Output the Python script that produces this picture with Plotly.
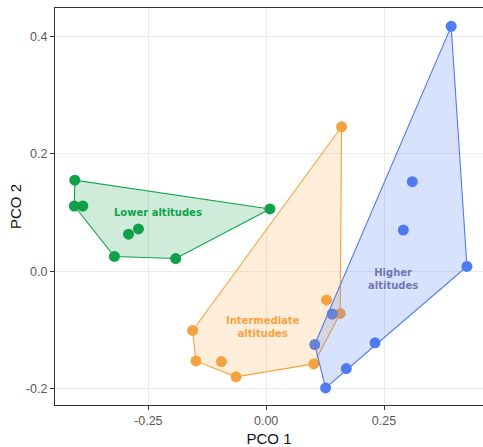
import plotly.graph_objects as go

# ---- data ----
low_x = [-0.406, -0.407, -0.389, -0.292, -0.271, -0.322, -0.192, 0.008]
low_y = [0.155, 0.111, 0.111, 0.063, 0.072, 0.025, 0.0215, 0.106]

mid_x = [0.160, 0.128, 0.157, -0.156, -0.149, -0.095, -0.064, 0.101]
mid_y = [0.246, -0.049, -0.072, -0.101, -0.153, -0.154, -0.180, -0.158]

high_x = [0.3925, 0.310, 0.291, 0.426, 0.140, 0.103, 0.231, 0.170, 0.126]
high_y = [0.417, 0.1525, 0.070, 0.008, -0.073, -0.125, -0.122, -0.166, -0.199]

group_names = ["Lower altitudes", "Intermediate altitudes", "Higher altitudes"]
label_text = ["Lower altitudes", "Intermediate<br>altitudes", "Higher<br>altitudes"]
label_x = [-0.230, -0.007, 0.269]
label_y = [0.0995, -0.095, -0.014]

colors = ["#10a24a", "#f4a340", "#4f7cf2"]
fills = ["rgba(16,162,74,0.2)", "rgba(244,163,64,0.2)", "rgba(79,124,242,0.22)"]
label_colors = ["#10a24a", "#f4a340", "#7276b6"]

groups = [(low_x, low_y), (mid_x, mid_y), (high_x, high_y)]


def convex_hull(xs, ys):
    pts = sorted(set(zip(xs, ys)))
    if len(pts) <= 2:
        return pts

    def cross(o, a, b):
        return (a[0] - o[0]) * (b[1] - o[1]) - (a[1] - o[1]) * (b[0] - o[0])

    lower = []
    for p in pts:
        while len(lower) >= 2 and cross(lower[-2], lower[-1], p) <= 0:
            lower.pop()
        lower.append(p)
    upper = []
    for p in reversed(pts):
        while len(upper) >= 2 and cross(upper[-2], upper[-1], p) <= 0:
            upper.pop()
        upper.append(p)
    return lower[:-1] + upper[:-1]


fig = go.Figure()

# points first
for (xs, ys), c, n in zip(groups, colors, group_names):
    fig.add_trace(go.Scatter(x=xs, y=ys, mode="markers", name=n,
                             marker=dict(size=11, color=c, line=dict(width=0)),
                             showlegend=False))

# hulls on top with transparent fill
for (xs, ys), c, f, n in zip(groups, colors, fills, group_names):
    hull = convex_hull(xs, ys)
    hx = [p[0] for p in hull] + [hull[0][0]]
    hy = [p[1] for p in hull] + [hull[0][1]]
    fig.add_trace(go.Scatter(x=hx, y=hy, mode="lines", fill="toself",
                             fillcolor=f, line=dict(color=c, width=1.1),
                             name=n, showlegend=False, hoverinfo="skip"))

for t, x, y, c in zip(label_text, label_x, label_y, label_colors):
    fig.add_annotation(x=x, y=y, text="<b>" + t + "</b>", showarrow=False,
                       font=dict(family="DejaVu Sans", size=10, color=c),
                       xanchor="center", yanchor="middle")

axis_common = dict(
    showgrid=True, gridcolor="#ebebeb", gridwidth=1,
    zeroline=False, showline=True, linecolor="#333333", linewidth=1.2,
    ticks="outside", ticklen=4, tickcolor="#333333", tickwidth=1,
    tickfont=dict(family="Liberation Sans, Arial", size=12.5, color="#595959"),
)

fig.update_xaxes(range=[-0.448, 0.460], tickvals=[-0.25, 0.0, 0.25],
                 ticktext=["-0.25", "0.00", "0.25"], mirror=True,
                 title=dict(text="PCO 1", standoff=8,
                            font=dict(family="Liberation Sans, Arial", size=15, color="#111111")),
                 **axis_common)
fig.update_yaxes(range=[-0.228, 0.4483], tickvals=[-0.2, 0.0, 0.2, 0.4],
                 ticktext=["-0.2", "0.0", "0.2", "0.4"], mirror=False,
                 title=dict(text="PCO 2", standoff=0,
                            font=dict(family="Liberation Sans, Arial", size=15, color="#111111")),
                 **axis_common)

fig.update_layout(width=483, height=447,
                  margin=dict(l=55, r=0, t=8, b=40),
                  plot_bgcolor="white", paper_bgcolor="white",
                  showlegend=False)

fig.write_html("out.html", config={"displayModeBar": False},
               post_script="document.body.style.margin='0';")
